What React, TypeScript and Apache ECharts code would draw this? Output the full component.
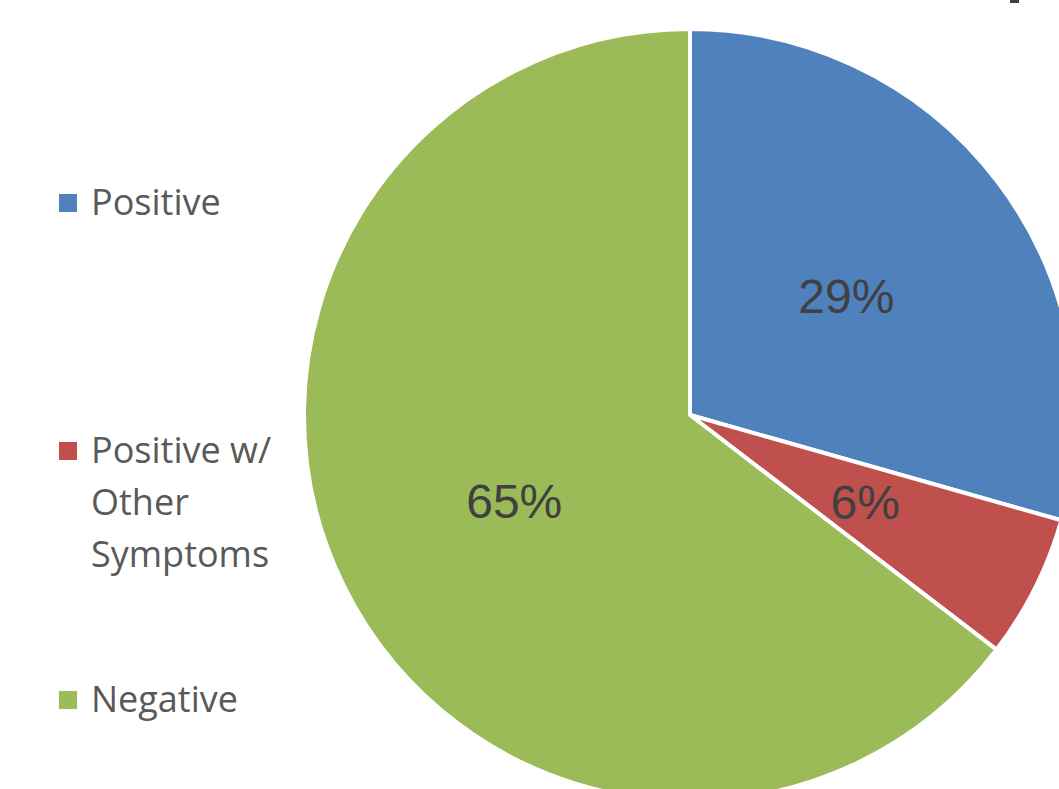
import React, { useEffect, useRef } from "react";
import * as echarts from "echarts";

const categories = ["Positive", "Positive w/\nOther\nSymptoms", "Negative"];
const values = [29.4, 6.0, 64.6];
const colors = ["#4F81BD", "#C0504D", "#9BBB59"];
const legendY = [203, 451, 700];

export default function App() {
  const ref = useRef<HTMLDivElement>(null);
  useEffect(() => {
    document.body.style.margin = "0";
    const chart = echarts.init(ref.current!, null, { renderer: "svg" });
    const legendGraphics: any[] = [];
    categories.forEach((c, i) => {
      legendGraphics.push({
        type: "rect",
        shape: { x: 59, y: legendY[i] - 9, width: 18, height: 18 },
        style: { fill: colors[i] },
      });
      legendGraphics.push({
        type: "text",
        x: 91,
        y: legendY[i] - 28,
        style: {
          text: c,
          fill: "#595959",
          font: "36px 'Open Sans'",
          lineHeight: 52,
          textVerticalAlign: "top",
        },
      });
    });
    legendGraphics.push({
      type: "rect",
      shape: { x: 1010, y: 0, width: 9, height: 3 },
      style: { fill: "#404040" },
    });
    chart.setOption({
      animation: false,
      backgroundColor: "#ffffff",
      graphic: legendGraphics,
      series: [
        {
          type: "pie",
          center: [690, 415],
          radius: 386,
          startAngle: 90,
          clockwise: true,
          data: categories.map((c, i) => ({
            name: c,
            value: values[i],
            itemStyle: { color: colors[i] },
          })),
          itemStyle: { borderColor: "#ffffff", borderWidth: 4 },
          label: {
            position: "inside",
            formatter: (p: any) => Math.round(p.value) + "%",
            color: "#404040",
            fontSize: 48,
            fontFamily: "'Liberation Sans', Arial, sans-serif",
          },
          labelLine: { show: false },
          emphasis: { disabled: true },
        },
      ],
    });
    return () => chart.dispose();
  }, []);
  return (
    <div
      ref={ref}
      style={{ position: "fixed", left: 0, top: 0, width: 1059, height: 789 }}
    />
  );
}
